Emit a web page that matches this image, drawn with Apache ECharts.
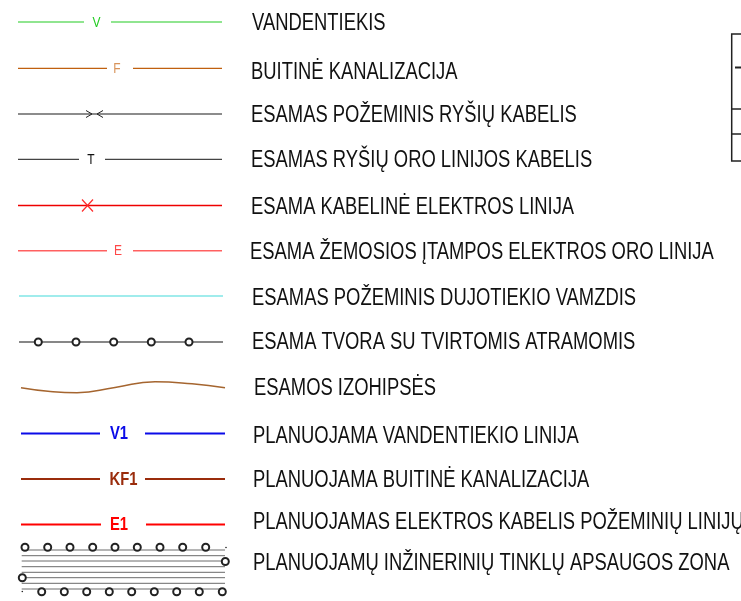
<!DOCTYPE html>
<html><head><meta charset="utf-8">
<script src="https://cdn.jsdelivr.net/npm/echarts@6/dist/echarts.min.js"></script>
<style>html,body{margin:0;padding:0;background:#fff}#c{width:741px;height:601px}</style>
</head><body><div id="c"></div>
<script>
// ---- legend content ----
const legendText = [
  'VANDENTIEKIS',
  'BUITINĖ KANALIZACIJA',
  'ESAMAS POŽEMINIS RYŠIŲ KABELIS',
  'ESAMAS RYŠIŲ ORO LINIJOS KABELIS',
  'ESAMA KABELINĖ ELEKTROS LINIJA',
  'ESAMA ŽEMOSIOS ĮTAMPOS ELEKTROS ORO LINIJA',
  'ESAMAS POŽEMINIS DUJOTIEKIO VAMZDIS',
  'ESAMA TVORA SU TVIRTOMIS ATRAMOMIS',
  'ESAMOS IZOHIPSĖS',
  'PLANUOJAMA VANDENTIEKIO LINIJA',
  'PLANUOJAMA BUITINĖ KANALIZACIJA',
  'PLANUOJAMAS ELEKTROS KABELIS POŽEMINIŲ LINIJŲ',
  'PLANUOJAMŲ INŽINERINIŲ TINKLŲ APSAUGOS ZONA'
];
const textX = [252, 251, 251, 251, 251, 250, 252, 252, 254, 253, 253, 253, 253];
const textY = [24, 72.5, 116, 161, 208, 252.5, 299, 343, 389, 437, 481, 522.5, 564];

// inline line tags
const tagText = ['V', 'F', 'T', 'E', 'V1', 'KF1', 'E1'];
const tagX = [96.5, 117, 91, 118, 119, 123.5, 119];
const tagY = [22.5, 68.8, 159.8, 251.2, 434, 479.5, 525];

// gap line rows (two segments each)
const gapRowY = [22, 68.3, 159.3, 250.7, 433.5, 479, 524.5];
const gapSegs = [
  [[18, 84], [111, 222]],
  [[18, 107], [133, 222]],
  [[18, 79], [105, 222]],
  [[18, 107], [133, 222]],
  [[21, 100], [145, 225]],
  [[21, 100], [145, 225]],
  [[21, 101], [146, 225]]
];
// full lines
const fullRowY = [114, 205.5, 296, 342];
const fullSpan = [[18, 222], [18, 222], [19, 223], [19, 223]];

// fence posts
const fenceX = [38.3, 76, 113.7, 151.3, 189];
const fenceY = 342;

// contour curve
const contourX = [21, 48, 77, 115, 155, 192, 225];
const contourY = [387.7, 391.2, 392.7, 387.5, 381.7, 383.8, 387.7];

// protection zone
const zoneLineY = [550, 555.7, 561, 566.7, 572.3, 577.7, 583.3, 589];
const zoneSpan = [21.7, 225];
const zoneTopX = [25, 47.7, 70, 92.7, 115, 137.3, 160, 182.7, 205.7];
const zoneTopY = 547.3;
const zoneBotX = [41.7, 64.3, 86.7, 109.3, 131.7, 154.3, 176.7, 199.3, 222.3];
const zoneBotY = 591.7;
const zoneSideCircles = [[225.3, 561.5], [22.3, 577.7]];
const zoneDots = [[226, 547.5], [22.3, 591.5]];

// partial frame at right edge
const frameX = 731.7, frameRight = 741;
const frameTicks = [34, 109, 134, 161];
const frameShort = 67.5;

// ---- styles ----
const FONT = '"Liberation Sans", Arial, sans-serif';
const gapColors = ['#22cc22', '#c0600f', '#444444', '#ff6060', '#0b0be8', '#9a2c0c', '#ff0000'];
const gapWidths = [1.2, 1.2, 1.2, 1.5, 2, 2, 2];
const tagColors = ['#22cc22', '#d8935a', '#111111', '#ff4848', '#0b0be8', '#9a2c0c', '#ff0000'];
const tagSizes = [15, 15, 15, 15, 18.5, 18.5, 18.5];
const tagBold = [false, false, false, false, true, true, true];
const fullColors = ['#666666', '#ee0000', '#80e6e6', '#111111'];
const fullWidths = [1.6, 1.3, 1.3, 1.2];

function seg(coords, color, width) {
  return {coords: coords, lineStyle: {color: color, width: width, opacity: 1}};
}
const linesData = [];
gapRowY.forEach((y, i) => {
  gapSegs[i].forEach(s => linesData.push(seg([[s[0], y], [s[1], y]], gapColors[i], gapWidths[i])));
});
fullRowY.forEach((y, i) => {
  linesData.push(seg([[fullSpan[i][0], y], [fullSpan[i][1], y]], fullColors[i], fullWidths[i]));
});
// chevrons on underground telecom cable
linesData.push(seg([[86, 110.5], [92, 114], [86, 117.5]], '#222', 1));
linesData.push(seg([[103, 110.5], [97, 114], [103, 117.5]], '#222', 1));
// X on cable electric line
linesData.push(seg([[82, 199.5], [93, 211.5]], '#ff2a2a', 1.2));
linesData.push(seg([[82, 211.5], [93, 199.5]], '#ff2a2a', 1.2));
// zone lines
zoneLineY.forEach(y => linesData.push(seg([[zoneSpan[0], y], [zoneSpan[1], y]], '#6a6a6a', 1)));
// frame
linesData.push(seg([[frameRight, frameTicks[0]], [frameX, frameTicks[0]], [frameX, frameTicks[frameTicks.length - 1]], [frameRight, frameTicks[frameTicks.length - 1]]], '#222', 1.5));
frameTicks.slice(1, -1).forEach(y => linesData.push(seg([[frameX, y], [frameRight, y]], '#222', 1.5)));
linesData.push(seg([[735, frameShort], [frameRight, frameShort]], '#222', 2));

const circles = [];
fenceX.forEach(x => circles.push([x, fenceY]));
zoneTopX.forEach(x => circles.push([x, zoneTopY]));
zoneBotX.forEach(x => circles.push([x, zoneBotY]));
zoneSideCircles.forEach(p => circles.push(p));

function textRenderer(texts, opts) {
  return function (params, api) {
    const i = params.dataIndex;
    const p = api.coord([api.value(0), api.value(1)]);
    const o = opts(i);
    return {
      type: 'text', x: p[0], y: p[1], scaleX: o.scaleX, silent: true,
      style: {
        text: texts[i], fill: o.color, font: o.font,
        align: o.align, verticalAlign: 'middle',
        textAlign: o.align, textVerticalAlign: 'middle'
      }
    };
  };
}

const chart = echarts.init(document.getElementById('c'), null, {renderer: 'canvas'});
chart.setOption({
  animation: false,
  backgroundColor: '#ffffff',
  grid: {left: 0, right: 0, top: 0, bottom: 0},
  xAxis: {type: 'value', min: 0, max: 741, show: false},
  yAxis: {type: 'value', min: 0, max: 601, inverse: true, show: false},
  series: [
    {
      type: 'lines', coordinateSystem: 'cartesian2d', polyline: true, silent: true,
      lineStyle: {opacity: 1},
      data: linesData
    },
    {
      type: 'line', silent: true, smooth: 0.5, symbol: 'none',
      lineStyle: {color: '#a5652f', width: 1.5},
      data: contourX.map((x, i) => [x, contourY[i]])
    },
    {
      type: 'scatter', silent: true, symbol: 'emptyCircle', symbolSize: 7,
      itemStyle: {color: '#222', borderColor: '#222', borderWidth: 1, opacity: 1},
      data: circles
    },
    {
      type: 'scatter', silent: true, symbol: 'circle', symbolSize: 1.6,
      itemStyle: {color: '#222', opacity: 1},
      data: zoneDots
    },
    {
      type: 'custom', silent: true,
      renderItem: textRenderer(tagText, i => ({
        scaleX: 0.8, color: tagColors[i], align: 'center',
        font: (tagBold[i] ? 'bold ' : '') + tagSizes[i] + 'px ' + FONT
      })),
      data: tagX.map((x, i) => [x, tagY[i]])
    },
    {
      type: 'custom', silent: true,
      renderItem: textRenderer(legendText, i => ({
        scaleX: 0.8, color: '#111', align: 'left',
        font: '23px ' + FONT
      })),
      data: textX.map((x, i) => [x, textY[i]])
    }
  ]
});
</script>
</body></html>
